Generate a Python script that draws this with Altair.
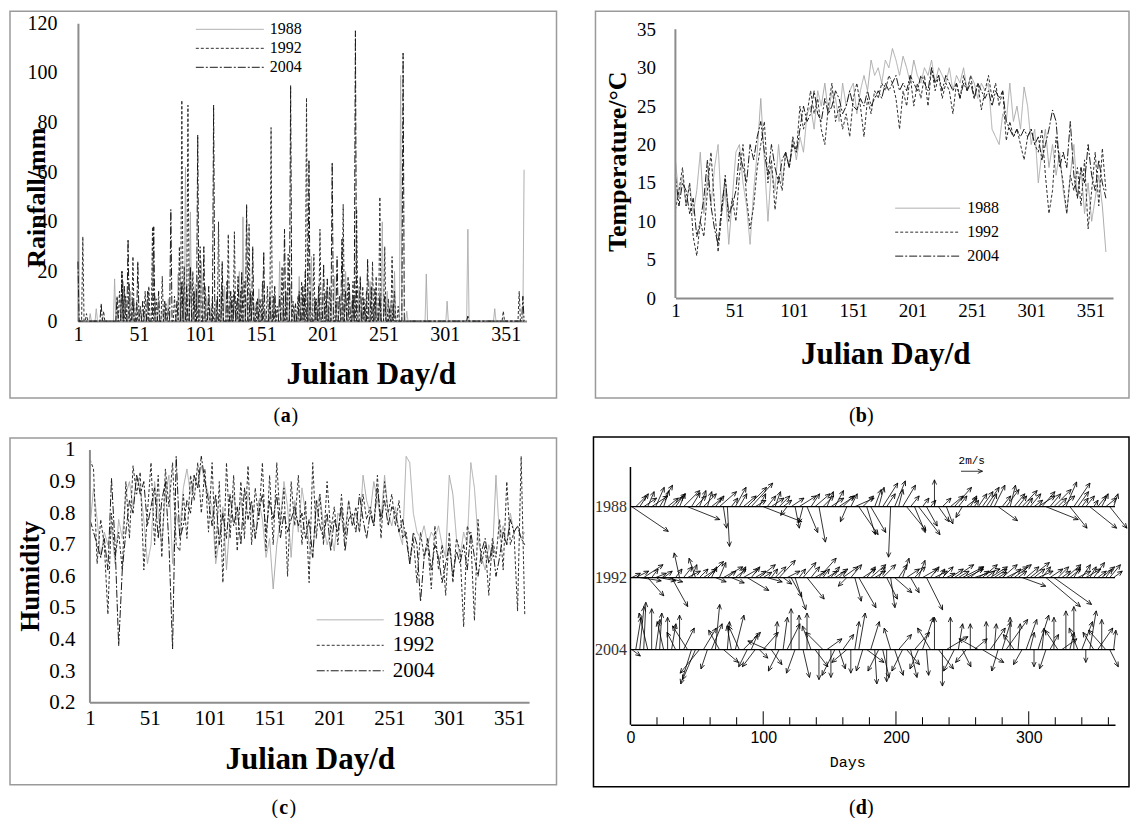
import math
import altair as alt
import pandas as pd

SERIF = "Liberation Serif"
SANS = "Liberation Sans"
MONO = "Liberation Mono"
AXC = "#8c8c8c"

YEARS = ["1988", "1992", "2004"]
DAYS3 = list(range(1, 365, 3))          # sampled Julian days 1,4,...,364
XTICKS = [1, 51, 101, 151, 201, 251, 301, 351]

# ---------------- (a) rainfall events (day, mm); all other days are 0 ----------------
RAIN_1988 = [(11, 3), (16, 5), (31, 17), (33, 6), (38, 16), (44, 12), (47, 8), (52, 5), (56, 4), (64, 10),
             (67, 6), (70, 4), (75, 9), (83, 19), (87, 12), (89, 62), (93, 44), (97, 15), (99, 18),
             (102, 24), (106, 10), (110, 6), (114, 8), (118, 12), (121, 14), (124, 6), (127, 8),
             (133, 20), (136, 42), (139, 9), (142, 10), (146, 6), (149, 13), (152, 7), (155, 4),
             (158, 12), (162, 10), (166, 24), (169, 8), (172, 12), (175, 15), (178, 6), (182, 18),
             (186, 10), (189, 9), (192, 26), (196, 8), (198, 14), (201, 12), (203, 7), (206, 6),
             (208, 10), (211, 18), (215, 10), (218, 6), (220, 20), (225, 8), (228, 12), (231, 14),
             (233, 9), (236, 6), (240, 16), (243, 7), (245, 10), (248, 12), (250, 40), (254, 12),
             (257, 8), (260, 20), (265, 99), (270, 4), (286, 19), (303, 8), (320, 37), (342, 5), (366, 61)]
RAIN_1992 = [(5, 34), (8, 3), (22, 4), (35, 12), (37, 20), (40, 10), (43, 15), (46, 26), (49, 8), (52, 6),
             (56, 12), (59, 14), (62, 38), (65, 9), (70, 18), (73, 7), (75, 5), (80, 10), (84, 30),
             (86, 89), (88, 22), (91, 87), (95, 20), (98, 12), (101, 30), (105, 14), (108, 8),
             (111, 10), (116, 40), (119, 14), (124, 35), (127, 10), (129, 36), (131, 8), (134, 12),
             (137, 16), (141, 39), (144, 12), (147, 8), (150, 9), (152, 16), (156, 14), (159, 78),
             (161, 10), (164, 6), (168, 22), (171, 12), (173, 27), (177, 8), (181, 10), (184, 16),
             (188, 90), (191, 12), (194, 27), (196, 9), (199, 37), (204, 12), (207, 14), (212, 8),
             (215, 10), (218, 47), (222, 18), (226, 16), (229, 45), (234, 14), (237, 12), (242, 24),
             (245, 18), (248, 50), (252, 30), (255, 9), (258, 26), (260, 12), (263, 6), (349, 4), (362, 12)]
RAIN_2004 = [(1, 24), (20, 7), (33, 10), (37, 20), (39, 14), (42, 33), (46, 9), (50, 24), (54, 8),
             (58, 12), (63, 38), (67, 12), (72, 8), (77, 45), (82, 8), (86, 16), (90, 14), (93, 22),
             (96, 12), (99, 75), (104, 30), (108, 14), (112, 87), (115, 10), (119, 24), (123, 16),
             (126, 12), (129, 12), (132, 18), (135, 20), (139, 47), (142, 12), (144, 30), (148, 9),
             (153, 28), (158, 10), (162, 14), (166, 10), (170, 37), (175, 95), (179, 7), (182, 12),
             (185, 14), (187, 20), (190, 65), (195, 9), (198, 14), (202, 23), (205, 17), (209, 64),
             (213, 26), (217, 33), (220, 12), (223, 15), (226, 10), (228, 117), (232, 18), (235, 9),
             (238, 25), (241, 14), (244, 13), (248, 10), (252, 10), (256, 5), (259, 7), (267, 108),
             (320, 2), (365, 10)]

# ---------------- (b) temperature, degC, on DAYS3 ----------------
TEMP_1988 = [18, 13, 16, 12, 15, 11, 14, 19, 11, 16,
             12, 17, 20, 11, 14, 7, 13, 19, 20, 15,
             12, 7, 14, 19, 26, 18, 10, 17, 14, 20,
             15, 19, 17, 21, 18, 21, 19, 24, 25, 22,
             27, 25, 28, 24, 27, 26, 23, 28, 25, 27,
             28, 24, 27, 29, 27, 31, 29, 30, 28, 31,
             30, 32.5, 31, 29, 31.5, 30, 28, 31, 29, 28,
             30, 29, 31, 28, 30, 29, 28, 30, 27, 29,
             28, 30, 27, 29, 28, 26, 28, 27, 28, 22,
             21, 20, 24, 23, 28, 23, 25, 22, 27.5, 25,
             20, 22, 15, 19, 22, 17, 20, 16, 19, 14,
             11, 16, 20, 13, 17, 11, 15, 10, 13, 16,
             12, 6]
TEMP_1992 = [11.5, 14, 17, 12, 15, 8, 5.5, 10, 8, 14,
             19, 12, 6, 11, 16, 10, 13, 10, 16, 20,
             13, 9, 12, 17, 20, 23, 15, 18, 11.5, 16,
             14, 19, 17, 21, 19, 25, 22, 24, 27, 24,
             26, 22, 20, 25, 28, 23, 25, 22, 24, 21,
             26, 28, 25, 21, 26, 24, 27, 26, 28, 27,
             29, 28, 26, 22, 27, 25, 29, 25, 28, 26,
             29, 25, 30, 27, 29, 26, 28, 27, 24, 28,
             26, 29, 27, 29, 26, 28, 24.5, 27, 29, 26,
             28, 25, 27, 20.5, 23, 21, 22, 20, 18, 21,
             22, 20, 19, 22, 16, 11, 14, 21, 18, 15,
             11, 16, 14, 17, 12, 18, 9, 14, 19, 12,
             19.5, 14]
TEMP_2004 = [16, 12, 15, 14, 11, 13, 8, 10, 13, 18,
             12, 9, 7, 12, 15.5, 11, 12, 14, 19, 17,
             15, 20, 18, 21, 23, 19, 16, 20, 17, 15,
             18, 19, 17, 20, 19, 22, 25, 23, 24, 27,
             24, 23, 26, 24, 25, 27, 26, 24, 25, 27,
             25, 24.5, 26, 25, 27, 25, 26, 27, 26, 28,
             27, 28, 29, 27, 28, 27, 29, 28, 27, 29,
             28, 27, 30, 28, 29, 27, 29, 28, 27, 28,
             26, 28, 27, 28, 26, 28, 27, 26, 27, 25,
             27, 26, 27, 23, 22, 21, 22, 21, 22, 21,
             22, 20, 21, 18, 20, 22, 24.5, 23, 17, 19,
             17, 23, 16, 13, 17, 15, 20, 16, 14, 18,
             15, 13]

# ---------------- (c) relative humidity on DAYS3 ----------------
HUM_1988 = [0.75, 0.88, 0.78, 0.66, 0.74, 0.70, 0.76, 0.64, 0.78, 0.72,
            0.86, 0.90, 0.82, 0.92, 0.88, 0.78, 0.64, 0.70, 0.90, 0.80,
            0.70, 0.86, 0.92, 0.64, 0.80, 0.74, 0.88, 0.94, 0.86, 0.92,
            0.88, 0.95, 0.90, 0.86, 0.82, 0.64, 0.72, 0.82, 0.62, 0.78,
            0.86, 0.78, 0.84, 0.76, 0.86, 0.80, 0.72, 0.84, 0.78, 0.66,
            0.72, 0.56, 0.70, 0.78, 0.90, 0.82, 0.66, 0.84, 0.74, 0.88,
            0.80, 0.70, 0.66, 0.82, 0.86, 0.76, 0.70, 0.74, 0.68, 0.80,
            0.78, 0.74, 0.84, 0.76, 0.80, 0.74, 0.92, 0.84, 0.80, 0.90,
            0.84, 0.78, 0.92, 0.80, 0.76, 0.82, 0.74, 0.70, 0.98, 0.96,
            0.80, 0.74, 0.72, 0.76, 0.70, 0.74, 0.72, 0.76, 0.70, 0.66,
            0.92, 0.86, 0.72, 0.66, 0.74, 0.70, 0.96, 0.88, 0.72, 0.66,
            0.62, 0.70, 0.66, 0.92, 0.72, 0.76, 0.70, 0.80, 0.74, 0.76,
            0.72, 0.74]
HUM_1992 = [0.97, 0.94, 0.64, 0.78, 0.70, 0.48, 0.80, 0.66, 0.74, 0.62,
            0.90, 0.72, 0.95, 0.86, 0.93, 0.62, 0.80, 0.96, 0.70, 0.92,
            0.66, 0.94, 0.82, 0.96, 0.70, 0.68, 0.86, 0.72, 0.92, 0.84,
            0.96, 0.80, 0.94, 0.74, 0.96, 0.66, 0.90, 0.58, 0.96, 0.72,
            0.92, 0.68, 0.90, 0.72, 0.95, 0.70, 0.88, 0.78, 0.96, 0.68,
            0.92, 0.70, 0.96, 0.76, 0.88, 0.60, 0.90, 0.76, 0.92, 0.70,
            0.84, 0.58, 0.96, 0.72, 0.86, 0.70, 0.90, 0.74, 0.82, 0.70,
            0.86, 0.72, 0.84, 0.76, 0.82, 0.74, 0.86, 0.78, 0.82, 0.76,
            0.92, 0.72, 0.90, 0.80, 0.86, 0.76, 0.84, 0.72, 0.74, 0.64,
            0.72, 0.58, 0.74, 0.66, 0.70, 0.56, 0.76, 0.62, 0.70, 0.54,
            0.74, 0.58, 0.72, 0.68, 0.44, 0.76, 0.72, 0.46, 0.78, 0.64,
            0.70, 0.54, 0.72, 0.66, 0.78, 0.62, 0.90, 0.70, 0.74, 0.49,
            0.98, 0.48]
HUM_2004 = [0.78, 0.74, 0.70, 0.66, 0.72, 0.62, 0.91, 0.70, 0.38, 0.62,
            0.74, 0.84, 0.80, 0.92, 0.86, 0.90, 0.76, 0.82, 0.88, 0.72,
            0.84, 0.90, 0.70, 0.37, 0.98, 0.72, 0.76, 0.84, 0.80, 0.92,
            0.88, 0.98, 0.90, 0.84, 0.76, 0.86, 0.70, 0.80, 0.72, 0.86,
            0.76, 0.82, 0.70, 0.88, 0.78, 0.84, 0.72, 0.80, 0.86, 0.74,
            0.84, 0.78, 0.86, 0.72, 0.80, 0.74, 0.78, 0.82, 0.76, 0.80,
            0.72, 0.78, 0.66, 0.84, 0.76, 0.72, 0.80, 0.68, 0.78, 0.74,
            0.82, 0.68, 0.78, 0.80, 0.74, 0.86, 0.78, 0.72, 0.80, 0.76,
            0.88, 0.78, 0.84, 0.76, 0.82, 0.80, 0.74, 0.78, 0.72, 0.64,
            0.74, 0.70, 0.52, 0.66, 0.72, 0.62, 0.70, 0.66, 0.58, 0.64,
            0.70, 0.60, 0.68, 0.64, 0.70, 0.62, 0.74, 0.66, 0.60, 0.68,
            0.72, 0.64, 0.70, 0.60, 0.66, 0.74, 0.70, 0.78, 0.74, 0.76,
            0.72, 0.70]

# ---------------- (d) wind vectors (u east, v north) in m/s on DAYS3 ----------------
WIND_1988 = [(3.4, -2.3), (1.0, 1.0), (0.8, 1.2), (1.2, 0.8), (0.6, 1.4), (1.5, 1.0), (0.8, 1.8), (1.2, 2.0), (0.5, 1.5), (1.0, 0.8),
             (1.3, 1.2), (0.7, 1.0), (0.5, 1.2), (1.5, 1.5), (3.0, -1.2), (0.8, 1.3), (1.0, 1.0), (0.6, 1.5), (1.2, 1.2), (0.4, 1.4),
             (1.0, 0.8), (0.8, 1.0), (1.6, 1.4), (0.3, -2.0), (0.2, -3.7), (0.6, 0.8), (1.0, 1.8), (0.7, 1.2), (1.2, 1.0), (1.8, 1.8),
             (2.0, 2.2), (1.0, 0.6), (0.6, 1.2), (3.6, -1.4), (0.8, 1.0), (1.2, 0.8), (0.5, 1.4), (1.0, 1.0), (0.8, 0.6), (-0.6, -0.8),
             (1.2, 0.8), (0.4, -2.0), (1.6, 1.0), (-0.4, -1.5), (1.0, -2.4), (0.8, 1.2), (1.4, 1.2), (0.6, -3.3), (1.0, 1.0), (0.6, 1.4),
             (1.2, 0.8), (0.8, 1.5), (1.5, 1.0), (1.0, 1.0), (-0.6, -1.4), (0.6, 1.2), (1.8, 0.8), (1.8, -2.6), (1.0, 1.0), (0.8, -2.6),
             (1.4, -2.4), (0.6, 1.6), (0.5, 1.8), (1.4, 2.2), (0.8, 1.2), (-0.2, -4.7), (1.0, 2.4), (0.4, 1.6), (1.2, 2.0), (1.8, -2.2),
             (0.8, 1.0), (1.0, -2.4), (2.0, -2.6), (0.6, 0.8), (1.0, -1.8), (0.5, 0.6), (0.0, 2.5), (1.0, -1.4), (0.8, 0.8), (0.6, -1.6),
             (1.2, 1.0), (1.6, 1.8), (0.8, 1.0), (-0.6, -1.0), (1.0, 0.8), (0.6, 1.0), (0.4, 0.6), (0.8, 1.2), (1.0, 1.4), (1.2, 1.8),
             (0.6, 1.2), (1.0, 2.0), (1.8, -1.3), (0.8, 1.0), (1.2, 1.6), (0.5, 2.0), (1.0, 1.2), (0.8, 1.0), (1.4, 1.5), (0.6, 0.8),
             (1.0, 1.2), (0.8, 0.6), (1.6, 1.0), (1.2, 1.4), (3.0, -1.2), (1.0, 1.2), (1.6, 1.6), (0.8, 0.8), (1.2, 1.0), (1.0, 2.3),
             (1.6, -2.0), (1.5, 2.2), (1.0, 1.4), (0.6, 0.8), (0.8, 1.0), (2.5, -2.0), (0.4, 0.6), (0.8, 1.0), (0.6, 1.2), (1.0, 0.8),
             (1.6, -2.0), (0.4, 1.2)]
WIND_1992 = [(0.8, 0.4), (1.2, 0.6), (2.0, -0.3), (1.8, 1.2), (1.5, -1.7), (0.6, 0.8), (1.0, 0.4), (1.5, -0.3), (0.8, 0.6), (1.4, -0.4),
             (1.5, -2.7), (0.6, 0.8), (-0.5, 2.3), (0.8, 1.0), (1.2, 0.6), (0.5, 1.2), (-0.6, 1.8), (0.8, 0.8), (1.2, 0.8), (1.5, 1.5),
             (0.5, 1.0), (1.0, -0.4), (0.6, 1.4), (1.8, 1.0), (0.8, 0.6), (1.2, -0.5), (1.0, 0.8), (0.6, 1.0), (1.4, 0.8), (2.0, -1.2),
             (0.8, 1.0), (1.0, 0.6), (1.5, 1.2), (0.8, 0.5), (1.4, -0.4), (0.6, 0.8), (1.0, 1.0), (1.5, 1.6), (0.8, -0.6), (1.2, 0.6),
             (1.0, -1.8), (1.0, -3.0), (0.6, 0.8), (1.2, 1.4), (1.6, -2.0), (0.8, 1.0), (1.0, 0.6), (1.6, 1.8), (0.6, 0.8), (1.0, 0.6),
             (0.8, 1.0), (1.2, 0.8), (0.6, 0.6), (1.4, 1.0), (-0.8, -0.8), (1.0, 1.2), (0.6, -2.2), (1.6, -2.8), (1.2, 0.8), (0.8, 1.0),
             (1.4, 1.2), (1.0, 0.6), (0.6, 1.0), (1.2, 1.2), (1.0, -2.0), (0.4, -2.8), (1.6, -1.4), (0.8, 1.2), (0.6, 1.8), (1.2, 0.8),
             (0.8, -1.4), (1.0, 1.0), (0.6, 1.6), (1.4, 0.8), (1.5, -3.0), (0.8, 1.0), (1.2, 0.6), (0.6, 0.8), (1.0, 1.0), (0.8, 0.4),
             (1.2, 0.8), (1.8, 1.2), (1.0, 0.6), (2.0, 1.0), (1.6, 0.8), (1.2, 1.0), (2.4, 0.8), (1.0, 0.6), (1.4, 1.2), (0.8, 0.6),
             (1.6, 1.0), (1.2, 0.8), (0.8, 0.5), (1.4, 1.2), (2.0, 1.0), (1.0, 0.8), (1.6, 1.2), (0.8, 0.6), (2.2, -0.8), (1.2, 1.0),
             (1.8, 1.4), (1.0, 0.8), (1.4, 0.6), (0.8, 1.0), (3.2, -2.7), (1.2, 0.8), (3.5, -2.5), (1.0, 1.0), (0.8, 0.6), (1.4, 1.2),
             (1.0, 0.8), (0.6, 1.0), (1.2, 0.6), (0.8, 1.2), (1.4, 0.8), (0.6, 1.0), (1.0, 1.4), (0.8, 0.6), (1.2, 1.0), (0.6, 0.8),
             (1.0, 1.2), (0.8, 0.6)]
WIND_2004 = [(0.8, -0.6), (0.5, 3.0), (0.4, 4.0), (0.2, 4.4), (-0.8, 3.4), (0.0, 3.8), (0.4, 2.8), (0.2, 3.4), (-0.6, 2.6), (0.0, 3.0),
             (0.4, 2.4), (-0.8, 1.6), (0.0, 3.2), (1.0, 2.0), (-1.4, 2.2), (-1.0, -3.2), (-1.2, -2.8), (-1.8, -2.2), (1.2, 2.0), (-0.6, -1.8),
             (1.0, 2.4), (0.4, 4.2), (-1.0, 1.8), (1.4, -1.2), (0.2, 2.6), (-0.4, 2.2), (0.8, 3.2), (-1.0, 2.2), (1.6, 1.6), (-0.8, -1.6),
             (0.6, 1.4), (-1.2, -1.6), (0.8, -0.8), (1.4, 1.6), (-1.8, 0.8), (1.0, -1.4), (0.2, 2.6), (-1.0, -2.0), (0.4, 3.0), (1.2, 2.4),
             (0.0, 3.8), (-0.8, -2.2), (0.0, 3.2), (0.6, -2.6), (0.0, 3.4), (-0.8, 2.2), (1.2, -1.6), (0.0, -2.8), (-1.6, 1.6), (1.4, 1.0),
             (0.0, -2.6), (-1.2, -2.4), (0.6, -1.8), (1.0, 1.4), (-1.4, -1.2), (0.0, -2.2), (0.4, 2.6), (0.6, 3.4), (-0.6, -2.0), (1.6, -1.2),
             (0.8, 2.6), (0.2, -3.2), (-1.0, -2.0), (0.6, -2.6), (0.0, -3.0), (-0.6, 2.0), (0.8, -2.4), (1.2, 1.4), (-1.0, -2.0), (1.2, -1.4),
             (0.6, -2.6), (1.4, 1.6), (-0.8, -1.8), (1.0, 3.0), (0.2, -2.4), (-1.2, 2.0), (0.0, 3.0), (1.4, -1.8), (0.0, -3.4), (2.0, 1.2),
             (0.0, 3.0), (-1.0, -2.0), (0.4, 2.4), (0.8, -1.6), (-1.0, -1.2), (0.0, 2.4), (1.2, 1.0), (-1.8, 1.0), (2.0, -1.2), (0.0, 2.6),
             (1.4, 2.0), (0.2, 2.4), (-0.6, -2.0), (0.8, 2.6), (2.0, 2.8), (0.0, 3.0), (-1.0, 1.4), (0.2, 2.4), (-0.8, -1.4), (1.0, 2.8),
             (0.4, 1.6), (0.0, -1.6), (1.0, 3.2), (0.2, 2.0), (-0.6, -1.8), (0.8, 1.4), (0.0, 3.0), (-1.2, 1.8), (1.4, 1.0), (0.0, 3.6),
             (0.4, 1.6), (0.0, 4.0), (-0.8, 2.0), (1.0, 2.6), (0.0, -1.2), (0.6, 3.6), (-1.0, 1.6), (1.4, 2.0), (0.0, 2.8), (-1.6, 1.8),
             (0.8, -1.6), (0.2, 1.8)]
WIND_BASE = [20.3, 13.7, 7.0]     # baseline of each year's stick plot, in m/s units of the y axis
REF_VECTOR = {"day": 249, "base": 23.6, "u": 2.0, "v": 0.0, "label": "2m/s"}
TICK_DAYS = list(range(20, 361, 20))

# ---------------- shared scales ----------------
COLOR = alt.Scale(domain=YEARS, range=["#a9a9a9", "#2e2e2e", "#1a1a1a"])
DASH = alt.Scale(domain=YEARS, range=[[1, 0], [3, 2], [8, 2, 2, 2]])


def one_row(**kw):
    return pd.DataFrame({k: [v] for k, v in kw.items()})


def frame(x0, x1, y0, y1, color, width):
    return alt.Chart(one_row(f=0)).mark_rect(fillOpacity=0, stroke=color, strokeWidth=width).encode(
        x=alt.value(x0), x2=alt.value(x1), y=alt.value(y0), y2=alt.value(y1))


def panel_label(letter, x, y):
    d = one_row(l="(", c=letter, r=")")
    base = alt.Chart(d)
    return [
        base.mark_text(font=SERIF, fontSize=20, align="center", baseline="middle").encode(
            x=alt.value(x - 9), y=alt.value(y), text="l:N"),
        base.mark_text(font=SERIF, fontSize=20, fontWeight="bold", align="center", baseline="middle").encode(
            x=alt.value(x), y=alt.value(y), text="c:N"),
        base.mark_text(font=SERIF, fontSize=20, align="center", baseline="middle").encode(
            x=alt.value(x + 9), y=alt.value(y), text="r:N"),
    ]


def legend(x0, x1, xt, y0, dy, size):
    out = []
    for i, yr in enumerate(YEARS):
        d = alt.Chart(one_row(year=yr))
        out.append(d.mark_rule(strokeWidth=1).encode(
            x=alt.value(x0), x2=alt.value(x1), y=alt.value(y0 + i * dy),
            color=alt.Color("year:N", scale=COLOR, legend=None),
            strokeDash=alt.StrokeDash("year:N", scale=DASH, legend=None)))
        out.append(d.mark_text(font=SERIF, fontSize=size, align="left", baseline="middle").encode(
            x=alt.value(xt), y=alt.value(y0 + i * dy), text="year:N"))
    return out


def xaxis(size, pad, tx, ty, domain=True):
    return alt.Axis(values=XTICKS, title="Julian Day/d", titleFont=SERIF, titleFontSize=31,
                    titleFontWeight="bold", titleColor="black", titleX=tx, titleY=ty,
                    titleBaseline="middle", titleAlign="center", labelFont=SERIF, labelFontSize=size,
                    labelColor="black", labelPadding=pad, labelFlush=False, labelOverlap=False,
                    ticks=False, grid=False, domain=domain, domainColor=AXC, domainWidth=2)


def yaxis(values, title, size, pad, tx, ty, tsize, fmt=None, domain=True):
    kw = dict(values=values, title=title, titleFont=SERIF, titleFontSize=tsize, titleFontWeight="bold",
              titleColor="black", titleX=tx, titleY=ty, titleAngle=270, titleBaseline="middle",
              titleAlign="center", labelFont=SERIF, labelFontSize=size, labelColor="black",
              labelPadding=pad, labelOverlap=False, ticks=False, grid=False, domain=domain,
              domainColor=AXC, domainWidth=2)
    if fmt:
        kw["format"] = fmt
    return alt.Axis(**kw)


class Pos:
    """x/y channel builders that always carry the same scale and axis, so layers merge cleanly."""

    def __init__(self, xdom, xax, ydom, yax):
        self.xs = alt.Scale(domain=xdom, nice=False, zero=False)
        self.ys = alt.Scale(domain=ydom, nice=False, zero=False)
        self.xax, self.yax = xax, yax

    def x(self, f):
        return alt.X(f"{f}:Q", scale=self.xs, axis=self.xax)

    def y(self, f):
        return alt.Y(f"{f}:Q", scale=self.ys, axis=self.yax)


def series_lines(df, ycol, P):
    return alt.Chart(df).mark_line(strokeWidth=1).encode(
        x=P.x("day"), y=P.y(ycol),
        color=alt.Color("year:N", scale=COLOR, legend=None),
        strokeDash=alt.StrokeDash("year:N", scale=DASH, legend=None),
        detail="year:N",
    )


def axis_rule(df, P, x, x2, y, y2, color, width):
    enc = dict(x=P.x(x), y=P.y(y))
    if x2:
        enc["x2"] = f"{x2}:Q"
    if y2:
        enc["y2"] = f"{y2}:Q"
    return alt.Chart(df).mark_rule(color=color, strokeWidth=width).encode(**enc)


# ---------------- data frames ----------------
rain_rows = []
for yr, events in zip(YEARS, [RAIN_1988, RAIN_1992, RAIN_2004]):
    daily = {d: 0.0 for d in range(1, 367)}
    for d, mm in events:
        daily[d] = mm
    rain_rows += [{"year": yr, "day": d, "mm": v} for d, v in daily.items()]
rain_df = pd.DataFrame(rain_rows)

temp_df = pd.DataFrame([{"year": yr, "day": d, "t": v}
                        for yr, s in zip(YEARS, [TEMP_1988, TEMP_1992, TEMP_2004])
                        for d, v in zip(DAYS3, s)])
hum_df = pd.DataFrame([{"year": yr, "day": d, "h": v}
                       for yr, s in zip(YEARS, [HUM_1988, HUM_1992, HUM_2004])
                       for d, v in zip(DAYS3, s)])

# ---------------- panel sizes ----------------
WA, HA = 449, 298
WB, HB_VIS, B_SHIFT = 438, 269, 6          # (b) plot sits 6px lower than (a)
HB = HB_VIS + B_SHIFT
B_TOP = 35
WC_VIS, C_SHIFT, HC = 440, 12, 253         # (c) y-axis sits 12px right of (a)'s
WC = WC_VIS + C_SHIFT
XC_DOM = [1 - C_SHIFT * (367 / WC_VIS), 368]
WD, HD_VIS, D_SHIFT = 485, 258, 17         # (d) plot sits 17px lower than (c)
HD = HD_VIS + D_SHIFT
D_TOP = 24
XD_DOM = [0, 365]
YD_DOM = [0, D_TOP * HD / HD_VIS]
K = (HD_VIS / D_TOP) / (WD / (XD_DOM[1] - XD_DOM[0]))   # days per m/s for equal aspect

wind_rows = []
for yr, base, s in zip(YEARS, WIND_BASE, [WIND_1988, WIND_1992, WIND_2004]):
    for d, (u, v) in zip(DAYS3, s):
        wind_rows.append({"year": yr, "day": d, "base": base, "u": u, "v": v})
wind_rows.append({"year": "ref", "day": REF_VECTOR["day"], "base": REF_VECTOR["base"],
                  "u": REF_VECTOR["u"], "v": REF_VECTOR["v"]})
wind_df = pd.DataFrame(wind_rows)
wind_df["xe"] = wind_df["day"] + wind_df["u"] * K
wind_df["ye"] = wind_df["base"] + wind_df["v"]
wind_df["ang"] = [(math.degrees(math.atan2(u, v)) + 360) % 360 for u, v in zip(wind_df["u"], wind_df["v"])]

base_df = pd.DataFrame({"year": YEARS, "base": WIND_BASE, "x0": XD_DOM[0], "x1": XD_DOM[1]})
tick_df = pd.DataFrame({"day": TICK_DAYS})
ref_df = one_row(day=REF_VECTOR["day"] + REF_VECTOR["u"] * K / 2, y=REF_VECTOR["base"] + 0.95,
                 label=REF_VECTOR["label"])

# ---------------- panel (a) ----------------
PA = Pos([1, 368], xaxis(20, 3, 293, 53),
         [0, 120], yaxis(list(range(0, 121, 20)), "Rainfall/mm", 20, 21, -41, 174, 26))
A = alt.layer(
    frame(-68, 479, -12, 375, "#9a9a9a", 1.5),
    series_lines(rain_df, "mm", PA),
    *legend(118, 186, 192, 6, 19, 16),
    *panel_label("a", 208, 393),
).properties(width=WA, height=HA)

# ---------------- panel (b) ----------------
PB = Pos([1, 370], xaxis(19, 3, 210, 56),
         [0, B_TOP * HB / HB_VIS],
         yaxis(list(range(0, 36, 5)), "Temperature/°C", 19, 20, -58, 138, 26, domain=False))
B = alt.layer(
    frame(-80, 454, -12, 375, "#9a9a9a", 1.5),
    series_lines(temp_df, "t", PB),
    axis_rule(one_row(day=1, t=0, t2=B_TOP), PB, "day", None, "t", "t2", AXC, 2),
    *legend(220, 285, 292, 185, 24, 16),
    *panel_label("b", 186, 393),
).properties(width=WB, height=HB)

# ---------------- panel (c) ----------------
PC = Pos(XC_DOM, xaxis(21, 5, 232, 57, domain=False),
         [0.2, 1.0], yaxis([0.2, 0.3, 0.4, 0.5, 0.6, 0.7, 0.8, 0.9, 1.0], "Humidity", 21, 3, -47, 126, 27,
                           fmt=".1~f", domain=False))
C = alt.layer(
    frame(-68, 479, -12, 335, "#9a9a9a", 1.5),
    series_lines(hum_df, "h", PC),
    axis_rule(one_row(day=1, h=0.2, h2=1.0), PC, "day", None, "h", "h2", AXC, 2),
    axis_rule(one_row(day=1, day2=368, h=0.2), PC, "day", "day2", "h", None, AXC, 2),
    *legend(239, 306, 315, 170, 25.5, 21),
    *panel_label("c", 206, 358),
).properties(width=WC, height=HC)

# ---------------- panel (d) ----------------
label_expr = "''"
for b, yr in zip(WIND_BASE, YEARS):
    label_expr = f"datum.value == {b} ? '{yr}' : " + label_expr

PD = Pos(XD_DOM,
         alt.Axis(values=[0, 100, 200, 300], title="Days", titleFont=MONO, titleFontSize=15,
                  titleFontWeight="normal", titleColor="black", titleX=217, titleY=37,
                  titleBaseline="middle", titleAlign="center", labelFont=SANS, labelFontSize=16,
                  labelColor="black", labelPadding=5, labelFlush=False, labelOverlap=False,
                  ticks=False, grid=False, domainColor="black", domainWidth=1.5),
         YD_DOM,
         alt.Axis(values=WIND_BASE, labelExpr=label_expr, title="", labelFont=SERIF,
                  labelFontSize=16, labelColor="#333333", labelPadding=4, labelOverlap=False,
                  ticks=False, grid=False, domain=False))

baselines = alt.Chart(base_df).mark_rule(color="black", strokeWidth=1.3).encode(
    x=PD.x("x0"), x2="x1:Q", y=PD.y("base"))
d_axis_line = axis_rule(one_row(x=XD_DOM[0], y0=0, y1=D_TOP), PD, "x", None, "y0", "y1", "black", 1.5)
ticks = alt.Chart(tick_df).transform_calculate(
    zero="0", tl="datum.day % 100 == 0 ? 1.25 : 0.7").mark_rule(color="black", strokeWidth=1).encode(
    x=PD.x("day"), y=PD.y("zero"), y2="tl:Q")
shafts = alt.Chart(wind_df).mark_rule(color="black", strokeWidth=0.8).encode(
    x=PD.x("day"), x2="xe:Q", y=PD.y("base"), y2="ye:Q")
heads = alt.Chart(wind_df).mark_point(shape="M-0.45,1L0,0L0.45,1", filled=False, color="black",
                                      strokeWidth=0.8, size=90, opacity=1).encode(
    x=PD.x("xe"), y=PD.y("ye"), angle=alt.Angle("ang:Q", scale=None))
ref_text = alt.Chart(ref_df).mark_text(font=MONO, fontSize=11, align="center", baseline="middle").encode(
    x=PD.x("day"), y=PD.y("y"), text="label:N")

D = alt.layer(
    frame(-37, 499, -13, 337, "black", 1.5),
    baselines, d_axis_line, ticks, shafts, heads, ref_text,
    *panel_label("d", 231, 358),
).properties(width=WD, height=HD)

row1 = alt.hconcat(A, B, spacing=149, bounds="flush")
row2 = alt.hconcat(C, D, spacing=101, bounds="flush")

chart = alt.vconcat(row1, row2, spacing=10).properties(
    padding={"left": 1, "top": 2, "right": 0, "bottom": 0},
    background="white",
).configure(font=SERIF, view=alt.ViewConfig(strokeWidth=0))

chart.save("out.html", embed_options={"renderer": "svg", "actions": False})
